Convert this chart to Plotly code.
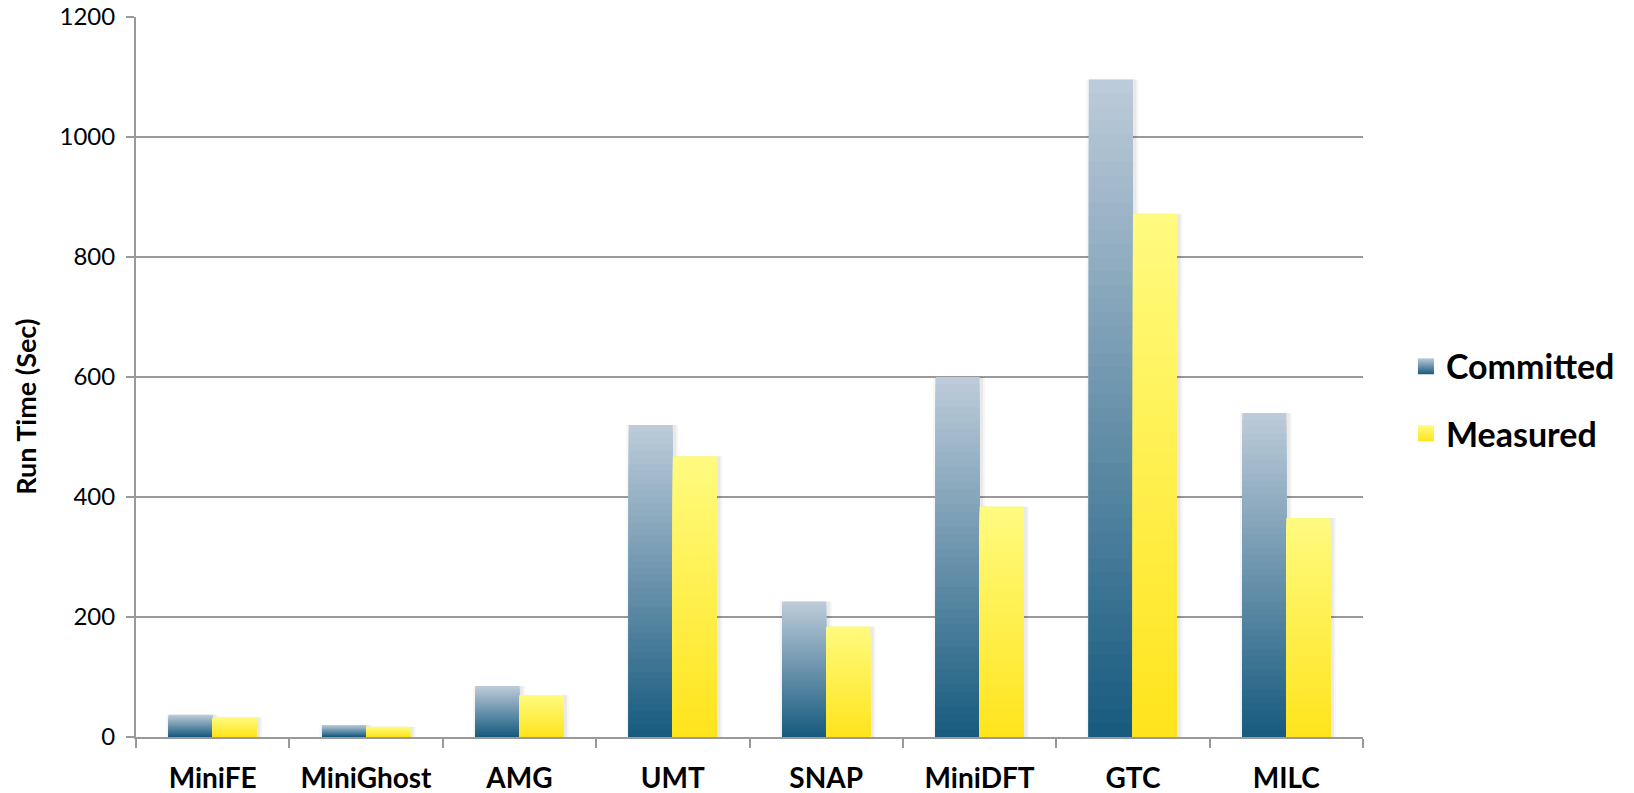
import plotly.graph_objects as go
import numpy as np

categories = ["MiniFE", "MiniGhost", "AMG", "UMT", "SNAP", "MiniDFT", "GTC", "MILC"]
committed = [37, 20, 85, 520, 226, 600, 1096, 540]
measured = [33, 17, 70, 468, 184, 384, 872, 365]
y_ticks = [0, 200, 400, 600, 800, 1000, 1200]

series = [
    dict(name="Committed", values=committed, bottom=(22, 90, 126), top=(190, 204, 218), offset=-0.287),
    dict(name="Measured", values=measured, bottom=(255, 228, 28), top=(255, 251, 128), offset=0.0),
]
N_SEG = 48
BAR_W = 0.287
GREY = "#999999"
PX = 1.0 / 153.4  # one pixel in category units (approx.)

fig = go.Figure()

# soft shadows behind bars
for s in series:
    vals = np.array(s["values"], dtype=float)
    for spread, alpha in [(4, 0.035), (2, 0.05)]:
        fig.add_trace(go.Bar(
            x=categories, y=vals,
            width=BAR_W + 2 * spread * PX, offset=s["offset"] - spread * PX + 1.5 * PX,
            marker=dict(color="rgba(0,0,0,%g)" % alpha, line=dict(width=0)),
            showlegend=False, hoverinfo="skip",
        ))

for s in series:
    vals = np.array(s["values"], dtype=float)
    # Layered bars all starting at 0: tallest (lightest) first, shorter/darker on top
    for k in range(N_SEG):
        frac = (N_SEG - k) / N_SEG
        t = (N_SEG - k - 0.5) / N_SEG
        c = tuple(int(round(b + (tp - b) * t)) for b, tp in zip(s["bottom"], s["top"]))
        fig.add_trace(go.Bar(
            x=categories, y=vals * frac,
            width=BAR_W, offset=s["offset"],
            marker=dict(color="rgb(%d,%d,%d)" % c, line=dict(width=0)),
            showlegend=False, hoverinfo="skip", legendgroup=s["name"],
        ))
    fig.add_trace(go.Scatter(
        x=[None], y=[None], mode="markers", name=s["name"], legendgroup=s["name"],
        marker=dict(symbol="square", size=16,
                    color="rgb(%d,%d,%d)" % s["top"],
                    gradient=dict(type="vertical", color="rgb(%d,%d,%d)" % s["bottom"])),
    ))

fig.update_layout(
    width=1634, height=793, autosize=False,
    margin=dict(l=136, r=271, t=17, b=56),
    paper_bgcolor="white", plot_bgcolor="white",
    barmode="overlay",
    font=dict(family="Lato", color="black"),
    showlegend=True,
    legend=dict(
        x=1.035, xanchor="left", y=0.468, yanchor="middle",
        font=dict(family="Lato", size=34, weight="bold", color="black"),
        tracegroupgap=20, bgcolor="rgba(0,0,0,0)",
    ),
    xaxis=dict(
        type="category", range=[-0.5, len(categories) - 0.5],
        tickfont=dict(family="Lato", size=28, weight="bold", color="black"),
        showline=True, linecolor=GREY, linewidth=2,
        ticks="outside", tickson="boundaries", ticklen=9, tickcolor=GREY, tickwidth=2,
        showgrid=False, ticklabelstandoff=15, automargin=False,
    ),
    yaxis=dict(
        range=[0, 1200], tickvals=y_ticks,
        tickfont=dict(family="Lato", size=24, color="black"),
        showgrid=True, gridcolor=GREY, gridwidth=2,
        showline=True, linecolor=GREY, linewidth=2,
        ticks="outside", ticklen=8, tickcolor=GREY, tickwidth=2,
        zeroline=False, ticklabelstandoff=6, automargin=False,
    ),
    annotations=[dict(
        text="Run Time (Sec)", textangle=-90,
        xref="paper", yref="paper", x=-0.090, y=0.458,
        xanchor="center", yanchor="middle", showarrow=False,
        font=dict(family="Lato", size=27, weight="bold", color="black"),
    )],
)

fig.write_html("out.html")
